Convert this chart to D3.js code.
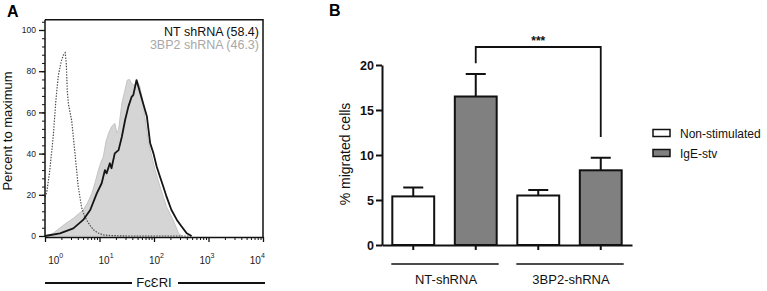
<!DOCTYPE html>
<html>
<head>
<meta charset="utf-8">
<script src="https://cdn.jsdelivr.net/npm/d3@7"></script>
<style>
  body { margin: 0; background: #fff; }
  svg { display: block; }
  text { font-family: "Liberation Sans", Arial, Helvetica, sans-serif; }
</style>
</head>
<body>
<div id="container"></div>
<script>
// ---- panel A: FcERI histograms (x = log10 of intensity, y = percent of max)
const isoLog = [0, 0.03, 0.08, 0.15, 0.2, 0.245, 0.3, 0.34, 0.37, 0.39, 0.41, 0.43, 0.46, 0.49, 0.55, 0.61, 0.67, 0.72, 0.77, 0.83, 0.89, 0.97, 1.07, 1.2, 1.5, 2.0, 2.7];
const isoPct = [19, 21, 30, 48, 66, 78, 85, 88, 89, 84, 70, 64, 60, 56, 40, 24, 14, 10, 7.5, 5, 3, 1.5, 0.5, 0.2, 0, 0, 0];

const shLog = [0, 0.15, 0.34, 0.52, 0.70, 0.78, 0.86, 0.92, 0.98, 1.03, 1.07, 1.12, 1.17, 1.22, 1.28, 1.32, 1.35, 1.41, 1.46, 1.51, 1.55, 1.59, 1.64, 1.68, 1.74, 1.79, 1.83, 1.90, 1.96, 2.02, 2.11, 2.23, 2.35, 2.45, 2.51];
const shPct = [0, 1.3, 5.3, 8.6, 12.6, 16, 20.7, 26, 32, 36, 38.5, 46, 50, 53, 54.7, 50, 51.5, 64.4, 70, 75.7, 76, 74, 73, 75.7, 72.5, 66, 58, 45, 38.5, 32, 24, 14.2, 7.8, 1.3, 0];

const ntLog = [0, 0.275, 0.52, 0.70, 0.83, 0.95, 1.04, 1.10, 1.13, 1.19, 1.22, 1.28, 1.35, 1.41, 1.47, 1.53, 1.59, 1.62, 1.68, 1.74, 1.80, 1.87, 1.93, 1.99, 2.05, 2.11, 2.17, 2.23, 2.32, 2.42, 2.51, 2.60, 2.69];
const ntPct = [0, 1.3, 3.7, 7.8, 12.6, 20.7, 25.6, 32, 30.4, 35.3, 32.9, 40.1, 41.7, 48.2, 56.3, 62.8, 67.6, 68.4, 75.7, 70, 64.4, 58, 45, 40.1, 33.6, 28.8, 24, 19.1, 12.6, 7.8, 4.5, 1.3, 0];

const histLegend = ["NT shRNA (58.4)", "3BP2 shRNA (46.3)"];
const histYTicks = [0, 20, 40, 60, 80, 100];
const histDecades = [0, 1, 2, 3, 4];

// ---- panel B: migration bars
const groups = ["NT-shRNA", "3BP2-shRNA"];
const conditions = ["Non-stimulated", "IgE-stv"];
const meanNT = [5.4, 16.5];
const errNT = [1.0, 2.5];
const meanKD = [5.5, 8.3];
const errKD = [0.6, 1.4];
const barYTicks = [0, 5, 10, 15, 20];
const sigLabel = "***";
const sigBar = [22, 20.2, 12.0]; // top, left leg end, right leg end

const w = 767, h = 291;
const svg = d3.select("#container").append("svg").attr("width", w).attr("height", h);

// ================= PANEL A =================
const xA = d3.scaleLog().domain([1, 1e4]).range([45, 263]);
const yA = d3.scaleLinear().domain([0, 100]).range([236, 30]);
const gA = svg.append("g");

const pts = (lx, py) => lx.map((v, i) => [Math.pow(10, v), py[i]]);

// grey filled histogram (3BP2 shRNA)
gA.append("path")
  .datum(pts(shLog, shPct))
  .attr("fill", "#d5d5d5")
  .attr("stroke", "#c4c4c4")
  .attr("stroke-width", 1)
  .attr("d", d3.area().x(d => xA(d[0])).y0(yA(0)).y1(d => yA(d[1])));

// dotted control
gA.append("path")
  .datum(pts(isoLog, isoPct))
  .attr("fill", "none")
  .attr("stroke", "#4a4a4a")
  .attr("stroke-width", 1.2)
  .attr("stroke-dasharray", "1.4,1.4")
  .attr("d", d3.line().x(d => xA(d[0])).y(d => yA(d[1])));

// NT shRNA black line
gA.append("path")
  .datum(pts(ntLog, ntPct))
  .attr("fill", "none")
  .attr("stroke", "#151515")
  .attr("stroke-width", 1.8)
  .attr("stroke-linejoin", "round")
  .attr("d", d3.line().x(d => xA(d[0])).y(d => yA(d[1])));

// frame top + right
gA.append("path")
  .attr("fill", "none").attr("stroke", "#111").attr("stroke-width", 1.5)
  .attr("d", `M${xA(1)},${yA(105)}H${xA(1e4)}V${yA(0) + 1}`);

// y axis
const yMinor = gA.append("g").attr("transform", `translate(${xA(1)},0)`)
  .call(d3.axisLeft(yA).tickValues(d3.range(0, 105, 4)).tickSize(3).tickFormat(""));
yMinor.select(".domain").remove();
yMinor.selectAll("line").attr("stroke", "#111").attr("stroke-width", 1);
const yMajor = gA.append("g").attr("transform", `translate(${xA(1)},0)`)
  .call(d3.axisLeft(yA).tickValues(histYTicks).tickSize(6).tickPadding(3).tickSizeOuter(0));
yMajor.select(".domain").attr("d", `M0,${yA(105)}V${yA(0) + 1}`).attr("stroke", "#111").attr("stroke-width", 1.5);
yMajor.selectAll("line").attr("stroke", "#111").attr("stroke-width", 1.3);
yMajor.selectAll("text").attr("font-size", 8.5).attr("font-family", "Liberation Sans, Arial, sans-serif").attr("fill", "#222");

// x axis (log)
const minorVals = [];
histDecades.slice(0, -1).forEach(k => d3.range(2, 10).forEach(m => minorVals.push(m * Math.pow(10, k))));
const xMinor = gA.append("g").attr("transform", `translate(0,${yA(0) + 1})`)
  .call(d3.axisBottom(xA).tickValues(minorVals).tickSize(3).tickFormat(""));
xMinor.select(".domain").remove();
xMinor.selectAll("line").attr("stroke", "#111").attr("stroke-width", 1);
const xMajor = gA.append("g").attr("transform", `translate(0,${yA(0) + 1})`)
  .call(d3.axisBottom(xA).tickValues(histDecades.map(k => Math.pow(10, k))).tickSize(5).tickFormat("").tickSizeOuter(0));
xMajor.select(".domain").attr("stroke", "#111").attr("stroke-width", 1.5);
xMajor.selectAll("line").attr("stroke", "#111").attr("stroke-width", 1.3);

const midA = (xA(1) + xA(1e4)) / 2;
histDecades.forEach(k => {
  const x0 = xA(Math.pow(10, k));
  const t = gA.append("text")
    .attr("x", x0 + (midA - x0) * 0.075 + 2.5)
    .attr("y", 264)
    .attr("text-anchor", "middle")
    .attr("font-size", 10)
    .attr("fill", "#1a1a1a");
  t.append("tspan").text("10");
  t.append("tspan").attr("dy", -6).attr("font-size", 7).text(k);
});

// x label with lines
gA.append("text").attr("x", midA).attr("y", 287)
  .attr("text-anchor", "middle").attr("font-size", 13).attr("fill", "#111")
  .text("Fc\u0190RI");
gA.append("line").attr("x1", 45).attr("x2", 132).attr("y1", 283).attr("y2", 283)
  .attr("stroke", "#111").attr("stroke-width", 1.8);
gA.append("line").attr("x1", 178).attr("x2", 265).attr("y1", 283).attr("y2", 283)
  .attr("stroke", "#111").attr("stroke-width", 1.8);

// y label
gA.append("text")
  .attr("transform", `translate(12,131) rotate(-90)`)
  .attr("text-anchor", "middle").attr("font-size", 13).attr("fill", "#111")
  .text("Percent to maximum");

// legend
gA.selectAll(".hleg").data(histLegend).enter().append("text")
  .attr("x", 259).attr("y", (d, i) => 35.5 + i * 13.5)
  .attr("text-anchor", "end").attr("font-size", 12.5)
  .attr("fill", (d, i) => i === 0 ? "#111" : "#a8a8a8")
  .text(d => d);

gA.append("text").attr("x", 7).attr("y", 17).attr("font-size", 16).attr("font-weight", "bold").text("A");

// ================= PANEL B =================
const gB = svg.append("g");
const keys = groups.flatMap(g => conditions.map(c => g + "|" + c));
const barData = [];
groups.forEach((g, gi) => conditions.forEach((c, ci) => {
  barData.push({ key: g + "|" + c, cond: ci,
    mean: gi === 0 ? meanNT[ci] : meanKD[ci],
    err: gi === 0 ? errNT[ci] : errKD[ci] });
}));

const xB = d3.scaleBand().domain(keys).range([382, 632]).paddingInner(0.33).paddingOuter(0.165);
const yB = d3.scaleLinear().domain([0, 20]).range([245, 65]);
const bw = xB.bandwidth();

// error bars (behind bars)
gB.selectAll(".err").data(barData).enter().append("path")
  .attr("fill", "none").attr("stroke", "#111").attr("stroke-width", 2)
  .attr("d", d => {
    const cx = xB(d.key) + bw / 2;
    return `M${cx},${yB(d.mean)}V${yB(d.mean + d.err)}M${cx - 10},${yB(d.mean + d.err)}H${cx + 10}`;
  });

gB.selectAll(".bar").data(barData).enter().append("rect")
  .attr("x", d => xB(d.key)).attr("width", bw)
  .attr("y", d => yB(d.mean)).attr("height", d => yB(0) - yB(d.mean))
  .attr("fill", d => d.cond === 0 ? "#ffffff" : "#808080")
  .attr("stroke", "#111").attr("stroke-width", 2);

// axes
const yAxB = gB.append("g").attr("transform", "translate(382,0)")
  .call(d3.axisLeft(yB).tickValues(barYTicks).tickSize(6).tickPadding(2).tickSizeOuter(0));
yAxB.select(".domain").attr("stroke", "#111").attr("stroke-width", 2);
yAxB.selectAll("line").attr("stroke", "#111").attr("stroke-width", 2);
yAxB.selectAll("text").attr("font-size", 12.5).attr("font-weight", "bold")
  .attr("font-family", "Liberation Sans, Arial, sans-serif").attr("fill", "#111");

const xAxB = gB.append("g").attr("transform", "translate(0,245)")
  .call(d3.axisBottom(xB).tickSize(5).tickFormat("").tickSizeOuter(0));
xAxB.select(".domain").attr("stroke", "#111").attr("stroke-width", 2);
xAxB.selectAll("line").attr("stroke", "#111").attr("stroke-width", 2);

// group lines + labels
groups.forEach(g => {
  const k0 = g + "|" + conditions[0], k1 = g + "|" + conditions[conditions.length - 1];
  const x1 = xB(k0) - 1, x2 = xB(k1) + bw + 2;
  gB.append("line").attr("x1", x1).attr("x2", x2).attr("y1", 264).attr("y2", 264)
    .attr("stroke", "#111").attr("stroke-width", 1.3);
  gB.append("text").attr("x", (x1 + x2) / 2 + 1).attr("y", 283.5)
    .attr("text-anchor", "middle").attr("font-size", 13).attr("fill", "#111").text(g);
});

// significance bracket
const bxL = xB(keys[1]) + bw / 2, bxR = xB(keys[3]) + bw / 2;
gB.append("path").attr("fill", "none").attr("stroke", "#111").attr("stroke-width", 1.8)
  .attr("d", `M${bxL},${yB(sigBar[1])}V${yB(sigBar[0])}H${bxR}V${yB(sigBar[2])}`);
gB.append("text").attr("x", (bxL + bxR) / 2).attr("y", yB(sigBar[0]) - 2)
  .attr("text-anchor", "middle").attr("font-size", 12).attr("font-weight", "bold").attr("fill", "#111")
  .text(sigLabel);

// y label
gB.append("text")
  .attr("transform", "translate(350,154) rotate(-90)")
  .attr("text-anchor", "middle").attr("font-size", 14).attr("fill", "#111")
  .text("% migrated cells");

// legend
const leg = gB.selectAll(".leg").data(conditions).enter().append("g")
  .attr("transform", (d, i) => `translate(653,${133 + i * 20})`);
leg.append("rect").attr("x", 0).attr("y", -3.5).attr("width", 17).attr("height", 7)
  .attr("fill", (d, i) => i === 0 ? "#fff" : "#808080")
  .attr("stroke", "#111").attr("stroke-width", 1.5);
leg.append("text").attr("x", 27).attr("y", 4.5).attr("font-size", 12).attr("fill", "#111").text(d => d);

gB.append("text").attr("x", 329).attr("y", 16).attr("font-size", 16).attr("font-weight", "bold").text("B");
</script>
</body>
</html>
